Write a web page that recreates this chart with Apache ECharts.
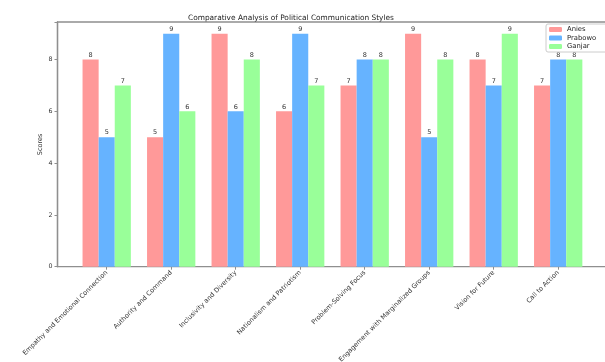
<!DOCTYPE html>
<html>
<head>
<meta charset="utf-8">
<script src="https://cdn.jsdelivr.net/npm/echarts@6/dist/echarts.min.js"></script>
<style>
  html, body { margin: 0; padding: 0; background: #fff; }
  #chart { width: 605px; height: 362px; }
</style>
</head>
<body>
<div id="chart"></div>
<script>
// Communication style categories and candidate scores
const categories = [
  'Empathy and Emotional Connection',
  'Authority and Command',
  'Inclusivity and Diversity',
  'Nationalism and Patriotism',
  'Problem-Solving Focus',
  'Engagement with Marginalized Groups',
  'Vision for Future',
  'Call to Action'
];
const anies   = [8, 5, 9, 6, 7, 9, 8, 7];
const prabowo = [5, 9, 6, 9, 8, 5, 7, 8];
const ganjar  = [7, 6, 8, 7, 8, 8, 9, 8];
const yTicks  = [0, 2, 4, 6, 8];

const font = 'DejaVu Sans';
const spine = '#8f8f8f';
const plotTop = 22, plotHeight = 244.7;
const yMax = 9.45;

const chart = echarts.init(document.getElementById('chart'), null, { renderer: 'canvas' });

function barSeries(name, data, color) {
  return {
    name: name,
    type: 'bar',
    xAxisIndex: 1,
    yAxisIndex: 1,
    data: data,
    barWidth: 16.1,
    barGap: '0%',
    itemStyle: { color: color },
    label: {
      show: true,
      position: 'top',
      distance: 1,
      fontFamily: font,
      fontSize: 6.5,
      color: '#333'
    }
  };
}

chart.setOption({
  animation: false,
  textStyle: { fontFamily: font },
  title: {
    text: 'Comparative Analysis of Political Communication Styles',
    left: 183,
    top: 10,
    textStyle: { fontFamily: font, fontSize: 7.4, fontWeight: 'normal', color: '#222' }
  },
  legend: {
    data: ['Anies', 'Prabowo', 'Ganjar'],
    orient: 'vertical',
    left: 546,
    top: 24,
    itemWidth: 13,
    itemHeight: 5,
    itemGap: 1.5,
    padding: [2, 20, 2, 3],
    borderColor: '#ccc',
    borderWidth: 1,
    borderRadius: 2,
    backgroundColor: '#fff',
    textStyle: { fontFamily: font, fontSize: 6.8, color: '#222' }
  },
  grid: [
    // outer frame with the y scale
    { left: 57.5, top: plotTop, width: 550, height: plotHeight, show: true,
      outerBoundsMode: 'none', containLabel: false,
      borderColor: spine, borderWidth: 1.3, backgroundColor: 'transparent' },
    // category bands for the bars
    { left: 74.45, top: plotTop, width: 516, height: plotHeight,
      outerBoundsMode: 'none', containLabel: false }
  ],
  xAxis: [
    { type: 'value', gridIndex: 0, min: 0, max: 1, show: false },
    {
      type: 'category', gridIndex: 1, data: categories,
      axisLine: { show: false },
      axisTick: { show: true, alignWithLabel: true, length: 3, lineStyle: { color: spine, width: 1 } },
      axisLabel: {
        interval: 0, rotate: 45, fontFamily: font, fontSize: 6.5, color: '#333', margin: 5
      }
    }
  ],
  yAxis: [
    {
      type: 'value', gridIndex: 0, min: 0, max: yMax, interval: 2,
      name: 'Scores', nameLocation: 'middle', nameGap: 14, nameMoveOverlap: false,
      nameTextStyle: { fontFamily: font, fontSize: 6.5, color: '#333' },
      axisLine: { show: true, lineStyle: { color: spine, width: 1.3 } },
      axisTick: { show: true, length: 3, lineStyle: { color: spine } },
      axisLabel: {
        fontFamily: font, fontSize: 6.3, color: '#333', margin: 5,
        formatter: v => (yTicks.indexOf(v) >= 0 ? String(v) : '')
      },
      splitLine: { show: false }
    },
    { type: 'value', gridIndex: 1, min: 0, max: yMax, show: false, splitLine: { show: false } }
  ],
  series: [
    barSeries('Anies', anies, '#ff9999'),
    barSeries('Prabowo', prabowo, '#66b3ff'),
    barSeries('Ganjar', ganjar, '#99ff99')
  ]
});
</script>
</body>
</html>
